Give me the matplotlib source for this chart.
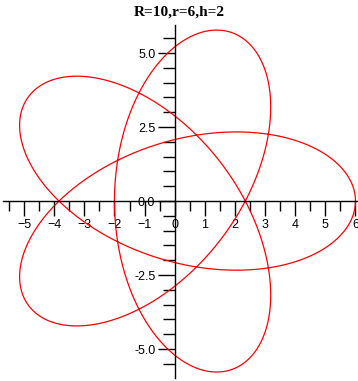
import numpy as np
import matplotlib
matplotlib.use("Agg")
import matplotlib.pyplot as plt
from matplotlib.ticker import MultipleLocator, FormatStrFormatter

# hypotrochoid parameters
R = 10
r = 6
h = 2

x_ticks = [-5, -4, -3, -2, -1, 0, 1, 2, 3, 4, 5, 6]
y_ticks = [-5.0, -2.5, 0.0, 2.5, 5.0]

t = np.linspace(0, 2 * np.pi * r / np.gcd(R, r), 3000)
x = (R - r) * np.cos(t) + h * np.cos((R - r) / r * t)
y = (R - r) * np.sin(t) - h * np.sin((R - r) / r * t)

plt.rcParams['font.family'] = ['Liberation Sans', 'DejaVu Sans']

fig = plt.figure(figsize=(3.58, 3.81), dpi=100)
ax = fig.add_axes([3 / 358, 3 / 381, 354 / 358, 353 / 381])

ax.plot(x, y, color='red', lw=0.9, clip_on=False)

ax.set_xlim(-5.7, 6.05)
ax.set_ylim(-5.98, 5.95)

for side in ['top', 'right']:
    ax.spines[side].set_visible(False)
ax.spines['left'].set_position(('data', 0))
ax.spines['bottom'].set_position(('data', 0))
ax.spines['left'].set_linewidth(1.0)
ax.spines['bottom'].set_linewidth(1.0)

ax.set_xticks(x_ticks)
ax.set_yticks(y_ticks)
ax.xaxis.set_minor_locator(MultipleLocator(0.5))
ax.yaxis.set_minor_locator(MultipleLocator(0.5))
ax.yaxis.set_major_formatter(FormatStrFormatter('%.1f'))

ax.tick_params(axis='x', which='major', direction='out', length=11, width=1, labelsize=9, pad=2)
ax.tick_params(axis='x', which='minor', direction='out', length=7, width=1)
ax.tick_params(axis='y', which='major', direction='out', length=12, width=1, labelsize=9, pad=2)
ax.tick_params(axis='y', which='minor', direction='out', length=9, width=1)

fig.text(0.5, 1 - 12 / 381, "R=10,r=6,h=2", ha='center', va='center',
         family='Liberation Serif', fontweight='bold', fontsize=11)

fig.savefig("out.png", dpi=100)
